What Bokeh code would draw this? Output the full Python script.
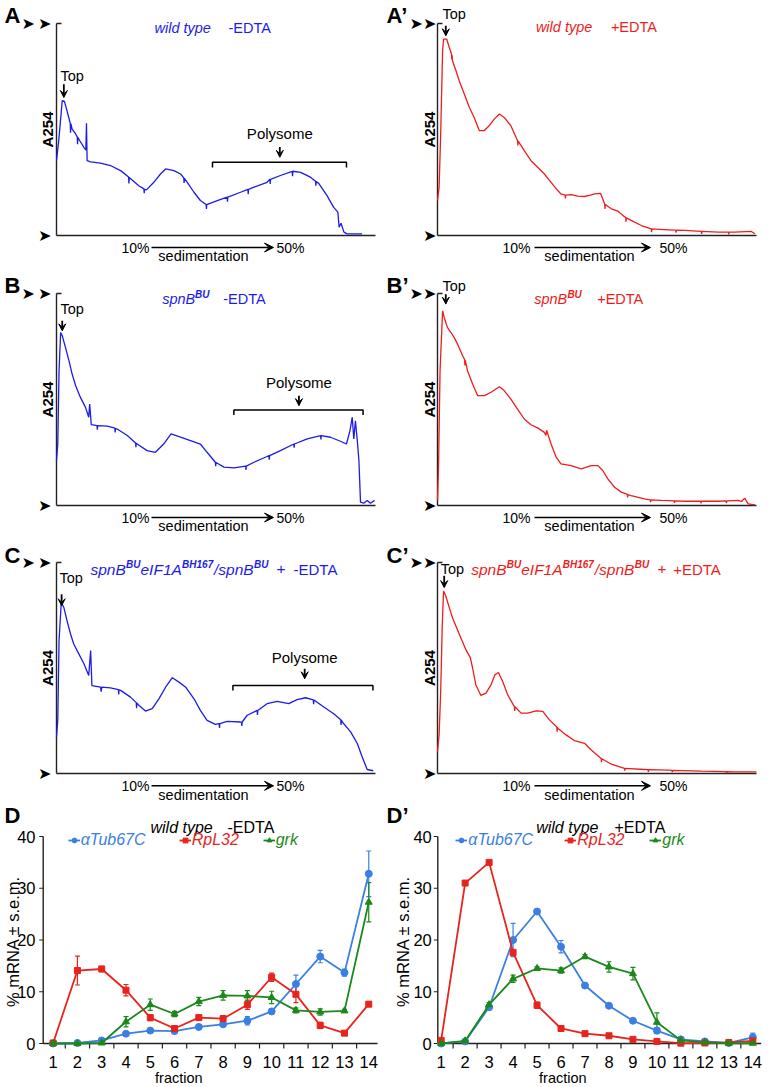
import math
from bokeh.plotting import figure
from bokeh.layouts import gridplot
from bokeh.core.properties import value
from bokeh.models import (Range1d, Label, Arrow, VeeHead, TeeHead, Whisker, ColumnDataSource,
                          Legend, LegendItem)
from bokeh.embed import file_html
from bokeh.resources import INLINE

# ---------------- A254 traces: (position along gradient %, relative A254) ----------------
trace_A = [(0, 35.3), (0.7, 44.7), (1.8, 63.6), (2.5, 63.3), (3.0, 60.4), (3.7, 56.5), (4.3, 53.0), (4.4, 48.5),
           (4.5, 52.8), (4.9, 50.2), (6.0, 47.9), (6.5, 46.5), (6.6, 43.0), (6.7, 46.3), (7.3, 44.7), (8.6, 41.6),
           (9.2, 40.3), (9.4, 52.9), (9.6, 35.3), (10.7, 34.7), (13.8, 34.1), (16.9, 33.0), (20.1, 30.6),
           (22.6, 27.6), (22.7, 24.5), (22.8, 27.4), (25.8, 23.5), (27.4, 22.0), (27.5, 20.0), (27.6, 21.8),
           (28.2, 21.5), (30.5, 25.1), (32.6, 29.0), (34.2, 31.4), (36.8, 30.6), (38.9, 29.0), (39.9, 27.2),
           (40.0, 24.8), (40.1, 27.0), (41.0, 25.1), (43.1, 20.4), (45.1, 16.5), (46.9, 14.6), (47.0, 12.5),
           (47.1, 14.6), (50.4, 16.5), (53.5, 18.1), (53.6, 16.0), (53.7, 18.1), (57.7, 20.4), (60.0, 21.8),
           (60.1, 19.5), (60.2, 21.8), (61.9, 22.8), (66.0, 25.1), (66.9, 26.5), (67.0, 24.3), (67.1, 26.5),
           (70.2, 28.3), (73.9, 30.3), (74.0, 28.0), (74.1, 30.3), (76.5, 29.8), (79.6, 27.5), (81.2, 25.6),
           (81.3, 23.5), (81.4, 25.4), (82.2, 24.6), (84.8, 18.8), (86.9, 13.3), (88.2, 11.0), (88.6, 3.9),
           (89.2, 5.8), (90.1, 1.6), (91.1, 0.8), (95.8, 0.8)]

trace_A2 = [(0, 16.5), (0.5, 22.8), (1.0, 47.9), (1.6, 87.1), (1.9, 92.6), (2.9, 92.6), (3.7, 88.7), (4.4, 85.5),
            (4.5, 83.0), (4.6, 85.0), (4.7, 82.4), (5.8, 77.7), (6.8, 73.0), (8.4, 66.7), (10.0, 60.4),
            (11.5, 55.7), (13.1, 49.5), (14.7, 49.5), (16.2, 51.8), (17.8, 54.9), (19.4, 57.3), (20.9, 55.7),
            (23.0, 51.8), (25.1, 44.7), (25.2, 42.5), (25.3, 44.5), (27.2, 40.0), (29.3, 35.3), (31.4, 32.2),
            (33.5, 29.0), (35.6, 25.1), (37.7, 21.2), (38.7, 19.6), (40.0, 19.0), (40.1, 17.5), (40.2, 19.0),
            (41.9, 19.3), (44.0, 18.6), (46.1, 18.4), (48.0, 19.0), (49.2, 19.6), (51.1, 19.9), (52.4, 14.9),
            (52.5, 12.5), (52.6, 14.6), (54.5, 12.6), (56.5, 11.5), (58.6, 8.9), (59.0, 8.5), (59.1, 6.5),
            (59.2, 8.3), (60.7, 7.1), (63.9, 4.7), (67.0, 3.1), (67.1, 1.6), (67.2, 3.1), (72.3, 2.7),
            (74.7, 2.5), (74.8, 1.3), (74.9, 2.5), (77.5, 2.4), (82.7, 1.9), (82.8, 0.7), (82.9, 1.9),
            (88.0, 1.6), (91.2, 1.6), (91.3, 0.5), (91.4, 1.6), (93.2, 1.6), (98.4, 1.9), (99.5, 0.8)]

trace_B = [(0, 21.2), (0.4, 29.0), (0.8, 63.6), (1.3, 81.6), (1.8, 80.1), (2.8, 74.6), (3.9, 68.3), (4.9, 62.0),
           (6.0, 56.5), (7.5, 51.0), (9.1, 46.3), (10.1, 41.6), (10.4, 47.9), (10.9, 38.1), (12.7, 37.7),
           (12.8, 35.8), (12.9, 37.7), (15.9, 37.4), (18.3, 36.5), (18.4, 34.5), (18.5, 36.3), (19.0, 36.1),
           (22.2, 33.0), (24.8, 29.5), (24.9, 27.5), (25.0, 29.3), (25.3, 29.0), (28.4, 25.9), (31.0, 25.1),
           (33.6, 29.0), (35.9, 33.8), (38.9, 32.2), (42.0, 30.6), (45.1, 29.0), (47.2, 25.1), (49.8, 20.4),
           (49.9, 18.5), (50.0, 20.3), (52.5, 18.1), (55.6, 17.7), (59.3, 18.6), (59.4, 16.8), (59.5, 18.6),
           (61.9, 20.4), (66.0, 23.1), (66.6, 23.5), (66.7, 21.6), (66.8, 23.5), (70.2, 25.9), (74.4, 29.0),
           (74.5, 27.3), (74.6, 29.0), (78.6, 31.4), (82.8, 33.0), (82.9, 31.2), (83.0, 33.0), (85.9, 32.2),
           (89.0, 30.3), (90.9, 29.0), (92.0, 35.3), (92.7, 41.6), (93.2, 31.4), (93.7, 40.0), (94.3, 30.6),
           (94.8, 21.2), (95.3, 1.6), (96.3, 1.1), (97.4, 2.4), (98.4, 1.1), (99.7, 2.4)]

trace_B2 = [(0, 2.4), (0.3, 16.5), (0.8, 63.6), (1.6, 91.8), (2.1, 88.7), (3.1, 84.0), (4.2, 81.6), (5.2, 79.3),
            (6.3, 76.1), (7.9, 70.6), (8.5, 68.8), (8.6, 66.0), (8.7, 68.5), (9.4, 63.6), (11.0, 57.3),
            (12.6, 51.8), (14.7, 51.8), (16.8, 53.4), (19.4, 56.0), (20.9, 54.2), (23.0, 50.2), (25.1, 45.5),
            (27.2, 40.8), (29.3, 38.1), (31.4, 36.6), (33.5, 34.5), (34.0, 33.0), (34.2, 35.5), (35.6, 29.0),
            (37.2, 22.8), (38.7, 19.6), (41.9, 18.8), (45.0, 17.3), (48.2, 18.8), (50.3, 18.8), (51.8, 16.5),
            (53.4, 12.6), (55.5, 8.6), (57.6, 6.3), (59.5, 5.2), (59.6, 3.8), (59.7, 5.1), (60.7, 4.7),
            (64.9, 3.1), (66.7, 2.7), (66.8, 1.6), (66.9, 2.7), (70.2, 2.4), (74.2, 2.2), (74.3, 1.2),
            (74.4, 2.2), (77.5, 2.0), (82.5, 2.0), (82.6, 1.0), (82.7, 2.0), (88.0, 2.0), (90.5, 2.2),
            (90.6, 1.1), (90.7, 2.2), (94.2, 2.4), (95.3, 1.9), (96.3, 3.5), (97.4, 0.8), (99.5, 0.3)]

trace_C = [(0, 17.3), (0.4, 25.2), (0.8, 63.0), (1.5, 81.1), (2.3, 78.7), (3.3, 72.4), (4.4, 66.1), (5.4, 61.4),
           (7.0, 56.7), (8.6, 52.0), (10.1, 46.5), (10.7, 58.3), (11.1, 41.7), (13.8, 40.9), (14.0, 38.8),
           (14.2, 40.9), (16.9, 40.6), (19.4, 39.7), (19.5, 37.5), (19.6, 39.6), (20.1, 39.4), (23.2, 36.2),
           (25.0, 33.6), (25.1, 31.0), (25.2, 33.4), (25.8, 32.3), (27.9, 29.6), (30.0, 30.7), (32.1, 35.4),
           (34.2, 40.9), (36.3, 45.4), (38.4, 43.3), (40.5, 40.9), (43.1, 35.4), (45.1, 29.9), (47.2, 25.2),
           (49.8, 23.3), (51.0, 23.6), (51.1, 21.6), (51.2, 23.6), (53.5, 24.7), (57.7, 24.4), (58.0, 24.2),
           (58.1, 22.5), (58.2, 24.4), (59.8, 27.6), (62.9, 29.9), (63.0, 27.8), (63.1, 29.9), (66.0, 33.1),
           (69.2, 34.2), (72.8, 33.1), (75.4, 35.0), (78.1, 35.9), (80.5, 34.9), (80.6, 32.8), (80.7, 34.8),
           (83.8, 31.5), (86.9, 28.3), (89.1, 25.5), (89.2, 23.0), (89.3, 25.3), (89.6, 24.4), (92.2, 19.7),
           (94.3, 14.2), (95.8, 7.9), (97.4, 1.9), (99.3, 1.3)]

trace_C2 = [(0, 10.3), (0.5, 18.3), (1.0, 38.9), (1.5, 70.6), (1.9, 86.5), (2.6, 84.1), (3.7, 78.6), (4.7, 73.8),
            (5.8, 69.8), (7.3, 64.3), (8.9, 58.7), (10.3, 54.8), (11.0, 50.0), (12.0, 42.1), (13.6, 37.0),
            (15.2, 38.1), (16.8, 42.1), (18.0, 46.8), (19.1, 47.9), (20.4, 43.7), (22.0, 37.3), (24.1, 31.7),
            (24.2, 29.6), (24.3, 31.6), (26.2, 28.6), (28.3, 28.6), (30.9, 29.7), (33.0, 29.4), (35.1, 25.4),
            (37.4, 22.0), (37.5, 19.8), (37.6, 21.9), (37.7, 21.4), (40.3, 18.3), (42.9, 15.6), (46.1, 14.3),
            (48.2, 11.1), (51.3, 7.1), (51.4, 5.4), (51.5, 7.0), (54.5, 4.4), (58.6, 2.4), (58.7, 1.3),
            (58.8, 2.4), (64.9, 1.9), (66.0, 1.8), (66.1, 0.8), (66.2, 1.8), (72.3, 1.6), (73.5, 1.5),
            (73.6, 0.6), (73.7, 1.5), (82.7, 1.1), (90.5, 0.9), (90.6, 0.2), (90.7, 0.9), (93.2, 0.8), (100, 0.8)]

# polysome brackets: (start, end, height)
poly_A = (48.9, 90.9, 34.5)
poly_B = (55.6, 96.1, 45.1)
poly_C = (55.3, 99.2, 41.7)

# ---------------- qRT-PCR: % mRNA per fraction ----------------
fractions = list(range(1, 15))
y_ticks = [0, 10, 20, 30, 40]
tub_minus = [0, 0.1, 0.6, 1.9, 2.5, 2.4, 3.2, 3.7, 4.4, 6.2, 11.5, 16.8, 13.7, 32.8]
tub_minus_sem = [0, 0.1, 0.2, 0.3, 0.3, 0.3, 0.4, 0.4, 0.8, 0.5, 1.7, 1.2, 0.7, 4.4]
rpl_minus = [0.1, 14.1, 14.4, 10.3, 5.0, 2.9, 5.0, 4.8, 7.5, 12.8, 9.5, 3.5, 2.0, 7.6]
rpl_minus_sem = [0.1, 2.8, 0.5, 1.1, 0.6, 0.3, 0.5, 0.6, 0.9, 0.8, 1.6, 0.6, 0.3, 0.4]
grk_minus = [0, 0, 0.1, 4.2, 7.5, 5.7, 8.1, 9.3, 9.2, 8.9, 6.4, 6.1, 6.3, 27.3]
grk_minus_sem = [0, 0, 0.1, 1.0, 1.1, 0.5, 0.8, 0.9, 1.0, 1.2, 0.5, 0.6, 0.3, 3.8]

tub_plus = [0, 0.4, 7.0, 20.0, 25.5, 18.7, 11.2, 7.3, 4.4, 2.5, 0.8, 0.4, 0.1, 1.2]
tub_plus_sem = [0, 0.1, 0.4, 3.2, 0.4, 1.2, 0.4, 0.3, 0.3, 0.6, 0.3, 0.2, 0.1, 0.8]
rpl_plus = [0.6, 31.0, 35.0, 17.6, 7.4, 2.9, 1.9, 1.5, 0.8, 0.4, 0.06, 0.1, 0.2, 0.5]
rpl_plus_sem = [0.2, 0.3, 0.3, 0.3, 0.6, 0.2, 0.2, 0.2, 0.1, 0.1, 0.05, 0.05, 0.05, 0.1]
grk_plus = [0, 0.5, 7.5, 12.5, 14.5, 14.1, 16.8, 14.8, 13.5, 4.1, 0.6, 0.2, 0.05, 0.05]
grk_plus_sem = [0, 0.1, 0.4, 0.7, 0.3, 0.5, 0.4, 1.0, 1.2, 1.8, 0.2, 0.1, 0.05, 0.05]

# ---------------- styling ----------------
FONT = "Liberation Sans"
TRACE_BLUE = "#1c1ce6"
TRACE_RED = "#ee1c1c"
C_TUB = "#3b7fe2"
C_RPL = "#e8231d"
C_GRK = "#1b881b"
AXIS = "#222222"
AXW = 1.4


class Pan:
    """Figure whose frame fills the canvas; (xr, yr) are the data extents of the plot area
    which sits L px from the left and T px from the top, fw x fh px in size."""

    def __init__(self, W, H, L, T, fw, fh, xr, yr):
        self.xr, self.yr = xr, yr
        self.sx = (xr[1] - xr[0]) / fw
        self.sy = (yr[1] - yr[0]) / fh
        full_x = (xr[0] - L * self.sx, xr[0] + (W - L) * self.sx)
        full_y = (yr[1] - (H - T) * self.sy, yr[1] + T * self.sy)
        p = figure(width=W, height=H, x_range=Range1d(*full_x), y_range=Range1d(*full_y),
                   output_backend="svg", toolbar_location=None,
                   x_axis_location=None, y_axis_location=None,
                   min_border_left=0, min_border_right=0, min_border_top=0, min_border_bottom=0)
        p.outline_line_color = None
        p.xgrid.visible = False
        p.ygrid.visible = False
        self.p = p

    def xy(self, dx, dy):
        return self.xr[0] + dx * self.sx, self.yr[1] - dy * self.sy

    def text(self, s, dx, dy, size, color="black", style="normal", align="left", angle=0.0, font=FONT):
        x, y = self.xy(dx, dy)
        self.p.add_layout(Label(x=x, y=y, text=s, text_font=font, text_font_size=size, text_color=color,
                                text_font_style=style, text_align=align, text_baseline="middle",
                                angle=angle))

    def dtext(self, s, x, y, size, align="center"):
        self.p.add_layout(Label(x=x, y=y, text=s, text_font=FONT, text_font_size=size,
                                text_color="black", text_align=align, text_baseline="middle"))

    def arrow(self, x0, y0, x1, y1, size=7, width=1.6):
        self.p.add_layout(Arrow(x_start=x0, y_start=y0, x_end=x1, y_end=y1,
                                line_color="black", line_width=width,
                                end=VeeHead(size=size, fill_color="black", line_color="black",
                                            line_width=1)))

    def parrow(self, dx0, dy0, dx1, dy1, size=7, width=1.6):
        x0, y0 = self.xy(dx0, dy0)
        x1, y1 = self.xy(dx1, dy1)
        self.arrow(x0, y0, x1, y1, size, width)


ROWS = {1: dict(H=270, T=23, fh=212, sed=(12, 20.5), letter=-8),
        2: dict(H=270, T=23, fh=212, sed=(12, 20.5), letter=-8),
        3: dict(H=262, T=22, fh=211, sed=(12.3, 21.2), letter=-7)}
COLS = {1: dict(L=56, fw=319, t10=79, t50=234, a0=95, a1=217, sed=147, heads=(-21.5, -5), ylab=-9,
                letter=-52),
        2: dict(L=53, fw=319, t10=79, t50=236, a0=97, a1=213, sed=152, heads=(-14.5, -1), ylab=-8.3,
                letter=-51)}

HEAD = "\u27a4"


def trace_panel(row, col, pts, color, letter, title, top_txt, top_arrow, poly=None, poly_lab=None):
    r, c = ROWS[row], COLS[col]
    P = Pan(384, r["H"], c["L"], r["T"], c["fw"], r["fh"], (0, 100), (0, 100))
    p = P.p
    # axes: bottom line, left line with an inward tick at the top
    p.segment(x0=[0, 0, 0], y0=[0, 0, 100], x1=[100, 0, 5 * P.sx], y1=[0, 100, 100],
              line_color=AXIS, line_width=AXW)
    p.line([q[0] for q in pts], [q[1] for q in pts], line_color=color, line_width=1.3)
    fh = r["fh"]
    P.text("A254", c["ylab"], fh / 2, "15px", style="bold", align="center", angle=math.pi / 2)
    P.text(letter, c["letter"], r["letter"], "22px", style="bold")
    # arrowheads pointing at the axis ends
    for hx in c["heads"]:
        P.text(HEAD, hx, 0, "16px", align="right", font="DejaVu Sans")
    P.text(HEAD, c["heads"][1], fh, "16px", align="right", font="DejaVu Sans")
    d1, d2 = r["sed"]
    P.text("10%", c["t10"], fh + d1, "14px", align="center")
    P.text("50%", c["t50"], fh + d1, "14px", align="center")
    P.parrow(c["a0"], fh + d1, c["a1"], fh + d1, size=9, width=1.4)
    P.text("sedimentation", c["sed"], fh + d2, "14.5px", align="center")
    for s, dx, dy, size, style in title:
        P.text(s, dx, dy, size, color=color, style=style)
    tx, ty, align = top_txt
    P.dtext("Top", tx, ty, "14.5px", align=align)
    ax, ay0, ay1 = top_arrow
    P.arrow(ax, ay0, ax, ay1, size=7, width=1.8)
    if poly is not None:
        x0, x1, y = poly
        p.line([x0, x0, x1, x1], [y - 2.4, y, y, y - 2.4], line_color="black", line_width=1.5)
        lx, ly, ay0, ay1 = poly_lab
        P.dtext("Polysome", lx, ly, "15px")
        P.arrow(lx, ay0, lx, ay1, size=7, width=1.8)
    return p


it, sup = "italic", "bold italic"
pA = trace_panel(1, 1, trace_A, TRACE_BLUE, "A",
                 [("wild type", 98, 4, "14.5px", it), ("-EDTA", 172, 4, "14.5px", "normal")],
                 (4.9, 75.4, "center"), (2.3, 71.4, 65.1), poly_A, (70.0, 47.9, 41.8, 36.9))
pA2 = trace_panel(1, 2, trace_A2, TRACE_RED, "A\u2019",
                  [("wild type", 98.4, 3.7, "14.5px", it), ("+EDTA", 173.4, 3.7, "14.5px", "normal")],
                  (5.2, 104.4, "center"), (2.6, 98.9, 94.2))
pB = trace_panel(2, 1, trace_B, TRACE_BLUE, "B",
                 [("spnB", 105.7, 5.3, "14.5px", it), ("BU", 138.5, 0.5, "10px", sup),
                  ("-EDTA", 166.7, 5.3, "14.5px", "normal")],
                 (4.9, 92.6, "center"), (1.8, 87.1, 82.4), poly_B, (76.0, 58.1, 51.8, 47.1))
pB2 = trace_panel(2, 2, trace_B2, TRACE_RED, "B\u2019",
                  [("spnB", 96.7, 5.3, "14.5px", it), ("BU", 129.9, 0.5, "10px", sup),
                   ("+EDTA", 159.7, 5.3, "14.5px", "normal")],
                  (5.2, 103.6, "center"), (2.6, 99.7, 95.0))
pC = trace_panel(3, 1, trace_C, TRACE_BLUE, "C",
                 [("spnB", 34, 6.6, "15.5px", it), ("BU", 69.5, 1.5, "10px", sup),
                  ("eIF1A", 84, 6.6, "15.5px", it), ("BH167", 125.6, 1.5, "10px", sup),
                  ("/spnB", 157.5, 6.6, "15.5px", it), ("BU", 197.5, 1.5, "10px", sup),
                  ("+", 219.7, 6.6, "15.5px", it), ("-EDTA", 237, 6.6, "15px", "normal")],
                 (4.6, 92.6, "center"), (1.6, 85.0, 79.5), poly_C, (77.8, 54.8, 49.6, 44.9))
pC2 = trace_panel(3, 2, trace_C2, TRACE_RED, "C\u2019",
                  [("spnB", 33.7, 6.6, "15.5px", it), ("BU", 69.2, 1.5, "10px", sup),
                   ("eIF1A", 83.7, 6.6, "15.5px", it), ("BH167", 125.3, 1.5, "10px", sup),
                   ("/spnB", 157.2, 6.6, "15.5px", it), ("BU", 197.2, 1.5, "10px", sup),
                   ("+", 219.7, 6.6, "15.5px", it), ("+EDTA", 235.7, 6.6, "15px", "normal")],
                  (1.0, 96.9, "left"), (2.1, 93.7, 88.1))


def dist_panel(L, fw, xr, letter, cond, series, legend_dx, title_dx, ylab_dx, frac_dx, letter_dx, ytl_dx):
    H, T, fh = 285, 34, 207
    P = Pan(384, H, L, T, fw, fh, xr, (0, 40))
    p = P.p
    x0, x1 = xr
    # axis lines
    p.segment(x0=[x0, x0], y0=[0, 0], x1=[x1, x0], y1=[0, 40], line_color=AXIS, line_width=AXW)
    # y ticks + labels
    p.segment(x0=[x0] * len(y_ticks), y0=y_ticks, x1=[x0 - 4 * P.sx] * len(y_ticks), y1=y_ticks,
              line_color=AXIS, line_width=1.2)
    p.text(x=[x0 + ytl_dx * P.sx] * len(y_ticks), y=y_ticks, text=[str(t) for t in y_ticks],
           text_font=value(FONT), text_font_size=value("16.5px"), text_align="right",
           text_baseline="middle", text_color="black")
    # x ticks between fractions + labels under fractions
    mids = [f + 0.5 for f in fractions[:-1]]
    p.segment(x0=mids, y0=[0] * len(mids), x1=mids, y1=[-5 * P.sy] * len(mids),
              line_color=AXIS, line_width=1.2)
    p.text(x=fractions, y=[-18.7 * P.sy] * len(fractions), text=[str(f) for f in fractions],
           text_font=value(FONT), text_font_size=value("16.5px"), text_align="center",
           text_baseline="middle", text_color="black")
    for (name, vals, sem, color, marker, size), ldx in zip(series, legend_dx):
        src = ColumnDataSource(dict(x=fractions, y=vals,
                                    lo=[v - e for v, e in zip(vals, sem)],
                                    hi=[v + e for v, e in zip(vals, sem)]))
        p.add_layout(Whisker(source=src, base="x", upper="hi", lower="lo", line_color=color, line_width=1.2,
                             upper_head=TeeHead(size=5, line_color=color, line_width=1.2),
                             lower_head=TeeHead(size=5, line_color=color, line_width=1.2)))
        rl = p.line("x", "y", source=src, line_color=color, line_width=1.8)
        rs = p.scatter("x", "y", source=src, marker=marker, size=size, fill_color=color, line_color=color)
        leg = Legend(items=[LegendItem(label=name, renderers=[rl, rs])], location=(L + ldx, H - T - 13),
                     orientation="horizontal", padding=0, margin=0, spacing=0, border_line_alpha=0,
                     background_fill_alpha=0, glyph_width=12, glyph_height=14, label_height=14,
                     label_standoff=1, label_text_font=FONT, label_text_font_size="16px",
                     label_text_font_style="italic", label_text_color=color)
        p.add_layout(leg)
    P.text("wild type", title_dx[0], -9.3, "16px", style="italic")
    P.text(cond, title_dx[1], -9.3, "16px")
    P.text("% mRNA \u00b1 s.e.m.", ylab_dx, fh / 2 + 1.5, "16.5px", align="center", angle=math.pi / 2)
    P.text("fraction", frac_dx, fh + 34, "14.5px", align="center")
    P.text(letter, letter_dx, -21, "22px", style="bold")
    return p


pD = dist_panel(42.7, 334.3, (0.59, 14.36), "D", "-EDTA",
                [("\u03b1Tub67C", tub_minus, tub_minus_sem, C_TUB, "circle", 7),
                 ("RpL32", rpl_minus, rpl_minus_sem, C_RPL, "square", 6),
                 ("grk", grk_minus, grk_minus_sem, C_GRK, "triangle", 7)],
                (25, 136, 220), (107.3, 184.3), -30.5, 135.6, -38.7, -7.7)
pD2 = dist_panel(53.3, 323.4, (0.86, 14.35), "D\u2019", "+EDTA",
                 [("\u03b1Tub67C", tub_plus, tub_plus_sem, C_TUB, "circle", 7),
                  ("RpL32", rpl_plus, rpl_plus_sem, C_RPL, "square", 6),
                  ("grk", grk_plus, grk_plus_sem, C_GRK, "triangle", 7)],
                 (18, 127, 212), (98.4, 176.7), -35, 125, -51.3, -6)

grid = gridplot([[pA, pA2], [pB, pB2], [pC, pC2], [pD, pD2]], toolbar_location=None)
open("out.html", "w").write(file_html(grid, INLINE))
